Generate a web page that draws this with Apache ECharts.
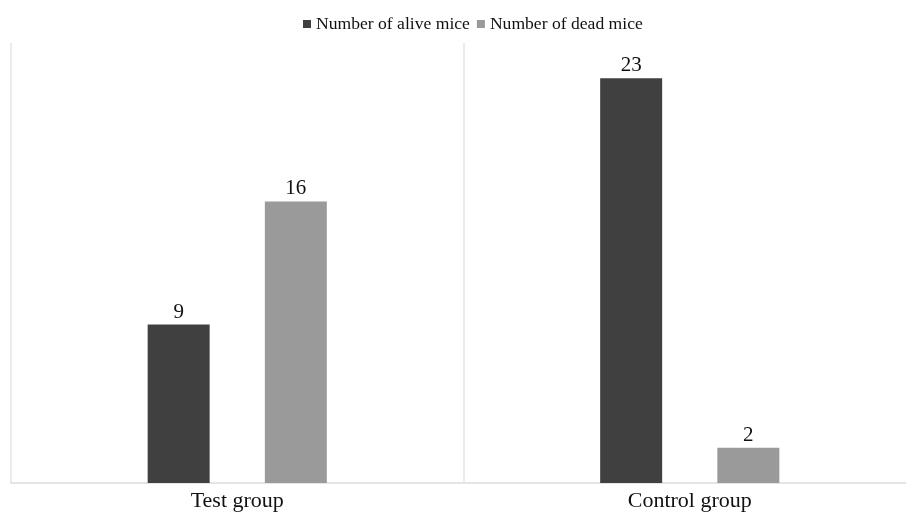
<!DOCTYPE html>
<html>
<head>
<meta charset="utf-8">
<script src="https://cdn.jsdelivr.net/npm/echarts@6/dist/echarts.min.js"></script>
<style>
html,body{margin:0;padding:0;background:#fff;overflow:hidden;width:906px;height:514px;}
#c{width:916px;height:514px;}
</style>
</head>
<body>
<div id="c"></div>
<script>
var categories = ["Test group", "Control group"];
var aliveMice = [9, 23];
var deadMice = [16, 2];
var seriesNames = ["Number of alive mice", "Number of dead mice"];

var chart = echarts.init(document.getElementById('c'), null, {renderer: 'canvas'});
var font = "'Liberation Serif', 'Times New Roman', serif";
chart.setOption({
  backgroundColor: '#ffffff',
  animation: false,
  legend: {
    left: 298,
    top: 10,
    icon: 'rect',
    itemWidth: 8,
    itemHeight: 8,
    itemGap: 7,
    textStyle: {fontFamily: font, fontSize: 17.6, color: '#111'},
    data: seriesNames
  },
  grid: {left: 11, top: 43, right: 0, bottom: 31, containLabel: false},
  xAxis: {
    type: 'category',
    data: categories,
    axisTick: {show: false},
    axisLine: {show: true, lineStyle: {color: '#e4e4e4', width: 2}},
    splitLine: {show: true, lineStyle: {color: '#ebebeb', width: 2}},
    axisLabel: {fontFamily: font, fontSize: 22, color: '#111', margin: 7}
  },
  yAxis: {
    type: 'value',
    min: 0,
    max: 25,
    show: false,
    splitLine: {show: false}
  },
  series: [
    {
      name: seriesNames[0],
      type: 'bar',
      data: aliveMice,
      barWidth: 62,
      barGap: '89%',
      itemStyle: {color: '#404040'},
      label: {show: true, position: 'top', distance: 2, fontFamily: font, fontSize: 21, color: '#111'}
    },
    {
      name: seriesNames[1],
      type: 'bar',
      data: deadMice,
      barWidth: 62,
      barGap: '89%',
      itemStyle: {color: '#9a9a9a'},
      label: {show: true, position: 'top', distance: 2, fontFamily: font, fontSize: 21, color: '#111'}
    }
  ]
});
</script>
</body>
</html>
